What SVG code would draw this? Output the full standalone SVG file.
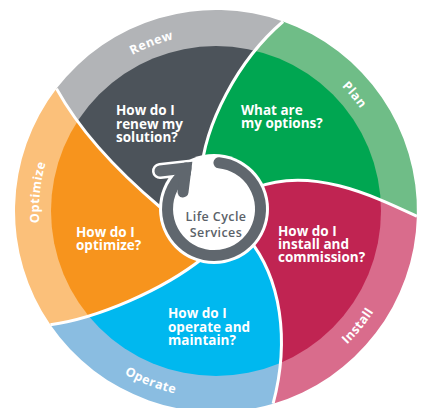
<svg xmlns="http://www.w3.org/2000/svg" width="422" height="408" viewBox="0 0 422 408">
<style>
.q{font-family:"Open Sans","Liberation Sans",sans-serif;font-weight:700;font-size:13.5px;fill:#ffffff}
.lbl{font-family:"Open Sans","Liberation Sans",sans-serif;font-weight:700;font-size:12.5px;fill:#ffffff;letter-spacing:0.5px}
.ctr{font-family:"Open Sans","Liberation Sans",sans-serif;font-weight:600;font-size:12.5px;fill:#5b6269;letter-spacing:0.4px}
.sep{fill:none;stroke:#ffffff;stroke-width:3}
</style>
<defs>
<clipPath id="innerClip"><circle cx="216" cy="211" r="165"/></clipPath>
<path id="w-renew" d="M214 209 L160 207 C120.3 173.4 81.9 134.7 56.5 88.6 A201 201 0 0 1 283.1 21.5 C238 60 204 125 201 175 Z"/>
<path id="w-plan" d="M214 209 L201 175 C204 125 238 60 283.1 21.5 A201 201 0 0 1 416.9 216.3 C372.5 195.5 311 166 255 188 Z"/>
<path id="w-install" d="M214 209 L255 188 C311 166 372.5 195.5 416.9 216.3 A201 201 0 0 1 273.1 403.7 C290 340 281 278 248 238 Z"/>
<path id="w-operate" d="M214 209 L248 238 C281 278 290 340 273.1 403.7 A201 201 0 0 1 50.4 324.8 C98 318 163 290 203 258 Z"/>
<path id="w-optimize" d="M214 209 L203 258 C163 290 98 318 50.4 324.8 A201 201 0 0 1 56.5 88.6 C81.9 134.7 120.3 173.4 160 207 Z"/>
<path id="t-renew" d="M78.5 99.6 A177 177 0 0 1 243.7 36.2"/>
<path id="t-plan" d="M276.5 44.7 A177 177 0 0 1 390.3 180.3"/>
<path id="t-optimize" d="M54.3 283 A177 177 0 0 1 72.8 107"/>
<path id="t-install" d="M283 385.6 A187 187 0 0 0 400.7 240.2"/>
<path id="t-operate" d="M70.7 328.7 A187 187 0 0 0 245.2 395.7"/>
</defs>

<g id="renew">
<use href="#w-renew" fill="#b2b4b7"/>
<use href="#w-renew" fill="#4c535a" clip-path="url(#innerClip)"/>
<text class="lbl"><textPath href="#t-renew" startOffset="50%" text-anchor="middle">Renew</textPath></text>
<text class="q" x="116" y="115"><tspan x="116">How do I</tspan><tspan x="116" dy="13.7">renew my</tspan><tspan x="116" dy="13.7">solution?</tspan></text>
</g>

<g id="plan">
<use href="#w-plan" fill="#6fbd87"/>
<use href="#w-plan" fill="#00a651" clip-path="url(#innerClip)"/>
<text class="lbl"><textPath href="#t-plan" startOffset="50%" text-anchor="middle">Plan</textPath></text>
<text class="q" x="241" y="115"><tspan x="241">What are</tspan><tspan x="241" dy="13">my options?</tspan></text>
</g>

<g id="install">
<use href="#w-install" fill="#d96c8c"/>
<use href="#w-install" fill="#c02452" clip-path="url(#innerClip)"/>
<text class="lbl"><textPath href="#t-install" startOffset="50%" text-anchor="middle">Install</textPath></text>
<text class="q" x="278" y="236"><tspan x="278">How do I</tspan><tspan x="278" dy="13">install and</tspan><tspan x="278" dy="13">commission?</tspan></text>
</g>

<g id="operate">
<use href="#w-operate" fill="#8abde1"/>
<use href="#w-operate" fill="#00b8ef" clip-path="url(#innerClip)"/>
<text class="lbl"><textPath href="#t-operate" startOffset="50%" text-anchor="middle">Operate</textPath></text>
<text class="q" x="168" y="318"><tspan x="168">How do I</tspan><tspan x="168" dy="13.5">operate and</tspan><tspan x="168" dy="13.5">maintain?</tspan></text>
</g>

<g id="optimize">
<use href="#w-optimize" fill="#fbc07a"/>
<use href="#w-optimize" fill="#f7941d" clip-path="url(#innerClip)"/>
<text class="lbl"><textPath href="#t-optimize" startOffset="50%" text-anchor="middle">Optimize</textPath></text>
<text class="q" x="76" y="236.5"><tspan x="76">How do I</tspan><tspan x="76" dy="13.5">optimize?</tspan></text>
</g>

<g id="separators">
<path class="sep" d="M201 175 C204 125 238 60 283.1 21.5"/>
<path class="sep" d="M255 188 C311 166 372.5 195.5 416.9 216.3"/>
<path class="sep" d="M248 238 C281 278 290 340 273.1 403.7"/>
<path class="sep" d="M203 258 C163 290 98 318 50.4 324.8"/>
<path class="sep" d="M160 207 C120.3 173.4 81.9 134.7 56.5 88.6"/>
</g>

<g id="life-cycle-services">
<circle cx="214" cy="209" r="55" fill="#ffffff"/>
<text class="ctr" x="216" y="221" text-anchor="middle"><tspan x="216">Life Cycle</tspan><tspan x="216" dy="16">Services</tspan></text>
</g>

<g id="connectors">
<g fill="none" stroke="#ffffff" stroke-width="16" stroke-linecap="round">
<path d="M160 171 L186 168 L183 192"/>
</g>
<g fill="none" stroke="#60676e" stroke-width="11" stroke-linecap="round">
<path d="M218.9 162.8 A46.5 46.5 0 1 1 185.4 172.4 L186 168"/>
<path d="M160 171 L186 168 L183 192"/>
</g>
</g>
</svg>
